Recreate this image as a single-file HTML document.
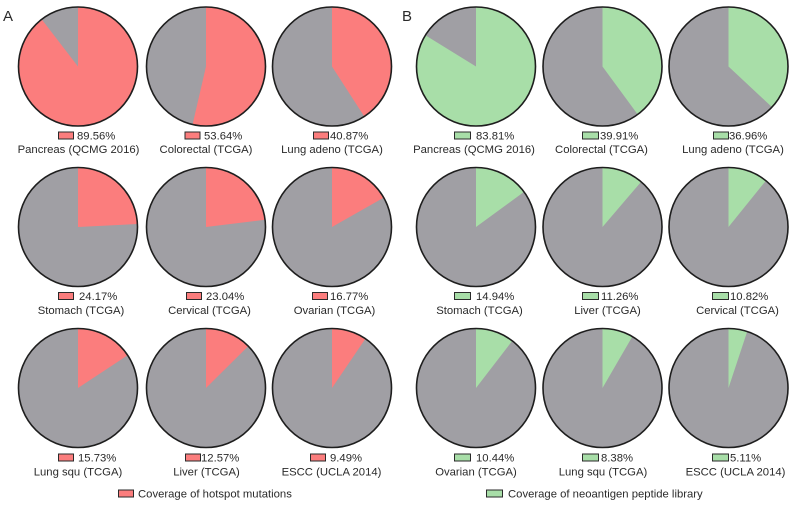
<!DOCTYPE html>
<html><head><meta charset="utf-8"><style>
html,body{margin:0;padding:0;background:#fff;}
svg{display:block;}
text{font-family:"Liberation Sans",Arial,sans-serif;fill:#2a2a2a;}
.p{font-size:11.3px;}
.n{font-size:11.3px;text-anchor:middle;}
</style></head><body>
<svg width="800" height="510" viewBox="0 0 800 510" xmlns="http://www.w3.org/2000/svg">
<defs>
<g id="dummy"></g>
</defs>
<text x="3" y="21" style="font-size:15px">A</text>
<text x="402" y="21" style="font-size:15px">B</text>

<!-- Panel A -->
<g fill="none">
<!-- row 1 -->
<circle cx="78" cy="66.5" r="59.5" fill="#A09FA4"/>
<circle cx="78" cy="66.5" r="29.75" stroke="#FB7D7D" stroke-width="59.5" pathLength="100" stroke-dasharray="89.56 200" transform="rotate(-90 78 66.5)"/>
<circle cx="78" cy="66.5" r="59.5" stroke="#1e1e1e" stroke-width="1.6"/>
<circle cx="206" cy="66.5" r="59.5" fill="#A09FA4"/>
<circle cx="206" cy="66.5" r="29.75" stroke="#FB7D7D" stroke-width="59.5" pathLength="100" stroke-dasharray="53.64 200" transform="rotate(-90 206 66.5)"/>
<circle cx="206" cy="66.5" r="59.5" stroke="#1e1e1e" stroke-width="1.6"/>
<circle cx="332" cy="66.5" r="59.5" fill="#A09FA4"/>
<circle cx="332" cy="66.5" r="29.75" stroke="#FB7D7D" stroke-width="59.5" pathLength="100" stroke-dasharray="40.87 200" transform="rotate(-90 332 66.5)"/>
<circle cx="332" cy="66.5" r="59.5" stroke="#1e1e1e" stroke-width="1.6"/>
<!-- row 2 -->
<circle cx="78" cy="227" r="59.5" fill="#A09FA4"/>
<circle cx="78" cy="227" r="29.75" stroke="#FB7D7D" stroke-width="59.5" pathLength="100" stroke-dasharray="24.17 200" transform="rotate(-90 78 227)"/>
<circle cx="78" cy="227" r="59.5" stroke="#1e1e1e" stroke-width="1.6"/>
<circle cx="206" cy="227" r="59.5" fill="#A09FA4"/>
<circle cx="206" cy="227" r="29.75" stroke="#FB7D7D" stroke-width="59.5" pathLength="100" stroke-dasharray="23.04 200" transform="rotate(-90 206 227)"/>
<circle cx="206" cy="227" r="59.5" stroke="#1e1e1e" stroke-width="1.6"/>
<circle cx="332" cy="227" r="59.5" fill="#A09FA4"/>
<circle cx="332" cy="227" r="29.75" stroke="#FB7D7D" stroke-width="59.5" pathLength="100" stroke-dasharray="16.77 200" transform="rotate(-90 332 227)"/>
<circle cx="332" cy="227" r="59.5" stroke="#1e1e1e" stroke-width="1.6"/>
<!-- row 3 -->
<circle cx="78" cy="388" r="59.5" fill="#A09FA4"/>
<circle cx="78" cy="388" r="29.75" stroke="#FB7D7D" stroke-width="59.5" pathLength="100" stroke-dasharray="15.73 200" transform="rotate(-90 78 388)"/>
<circle cx="78" cy="388" r="59.5" stroke="#1e1e1e" stroke-width="1.6"/>
<circle cx="206" cy="388" r="59.5" fill="#A09FA4"/>
<circle cx="206" cy="388" r="29.75" stroke="#FB7D7D" stroke-width="59.5" pathLength="100" stroke-dasharray="12.57 200" transform="rotate(-90 206 388)"/>
<circle cx="206" cy="388" r="59.5" stroke="#1e1e1e" stroke-width="1.6"/>
<circle cx="332" cy="388" r="59.5" fill="#A09FA4"/>
<circle cx="332" cy="388" r="29.75" stroke="#FB7D7D" stroke-width="59.5" pathLength="100" stroke-dasharray="9.49 200" transform="rotate(-90 332 388)"/>
<circle cx="332" cy="388" r="59.5" stroke="#1e1e1e" stroke-width="1.6"/>
</g>

<!-- Panel B -->
<g fill="none">
<circle cx="476" cy="66.5" r="59.5" fill="#A09FA4"/>
<circle cx="476" cy="66.5" r="29.75" stroke="#A8DEA8" stroke-width="59.5" pathLength="100" stroke-dasharray="83.81 200" transform="rotate(-90 476 66.5)"/>
<circle cx="476" cy="66.5" r="59.5" stroke="#1e1e1e" stroke-width="1.6"/>
<circle cx="602.5" cy="66.5" r="59.5" fill="#A09FA4"/>
<circle cx="602.5" cy="66.5" r="29.75" stroke="#A8DEA8" stroke-width="59.5" pathLength="100" stroke-dasharray="39.91 200" transform="rotate(-90 602.5 66.5)"/>
<circle cx="602.5" cy="66.5" r="59.5" stroke="#1e1e1e" stroke-width="1.6"/>
<circle cx="728.5" cy="66.5" r="59.5" fill="#A09FA4"/>
<circle cx="728.5" cy="66.5" r="29.75" stroke="#A8DEA8" stroke-width="59.5" pathLength="100" stroke-dasharray="36.96 200" transform="rotate(-90 728.5 66.5)"/>
<circle cx="728.5" cy="66.5" r="59.5" stroke="#1e1e1e" stroke-width="1.6"/>

<circle cx="476" cy="227" r="59.5" fill="#A09FA4"/>
<circle cx="476" cy="227" r="29.75" stroke="#A8DEA8" stroke-width="59.5" pathLength="100" stroke-dasharray="14.94 200" transform="rotate(-90 476 227)"/>
<circle cx="476" cy="227" r="59.5" stroke="#1e1e1e" stroke-width="1.6"/>
<circle cx="602.5" cy="227" r="59.5" fill="#A09FA4"/>
<circle cx="602.5" cy="227" r="29.75" stroke="#A8DEA8" stroke-width="59.5" pathLength="100" stroke-dasharray="11.26 200" transform="rotate(-90 602.5 227)"/>
<circle cx="602.5" cy="227" r="59.5" stroke="#1e1e1e" stroke-width="1.6"/>
<circle cx="728.5" cy="227" r="59.5" fill="#A09FA4"/>
<circle cx="728.5" cy="227" r="29.75" stroke="#A8DEA8" stroke-width="59.5" pathLength="100" stroke-dasharray="10.82 200" transform="rotate(-90 728.5 227)"/>
<circle cx="728.5" cy="227" r="59.5" stroke="#1e1e1e" stroke-width="1.6"/>

<circle cx="476" cy="388" r="59.5" fill="#A09FA4"/>
<circle cx="476" cy="388" r="29.75" stroke="#A8DEA8" stroke-width="59.5" pathLength="100" stroke-dasharray="10.44 200" transform="rotate(-90 476 388)"/>
<circle cx="476" cy="388" r="59.5" stroke="#1e1e1e" stroke-width="1.6"/>
<circle cx="602.5" cy="388" r="59.5" fill="#A09FA4"/>
<circle cx="602.5" cy="388" r="29.75" stroke="#A8DEA8" stroke-width="59.5" pathLength="100" stroke-dasharray="8.38 200" transform="rotate(-90 602.5 388)"/>
<circle cx="602.5" cy="388" r="59.5" stroke="#1e1e1e" stroke-width="1.6"/>
<circle cx="728.5" cy="388" r="59.5" fill="#A09FA4"/>
<circle cx="728.5" cy="388" r="29.75" stroke="#A8DEA8" stroke-width="59.5" pathLength="100" stroke-dasharray="5.11 200" transform="rotate(-90 728.5 388)"/>
<circle cx="728.5" cy="388" r="59.5" stroke="#1e1e1e" stroke-width="1.6"/>
</g>

<!-- swatches A -->
<g fill="#FB7D7D" stroke="#2a2a2a" stroke-width="1">
<rect x="58.5" y="132" width="15" height="7"/>
<rect x="185" y="132" width="15" height="7"/>
<rect x="313.5" y="132" width="15" height="7"/>
<rect x="58.5" y="292.5" width="15" height="7"/>
<rect x="186.5" y="292.5" width="15" height="7"/>
<rect x="312.5" y="292.5" width="15" height="7"/>
<rect x="58.5" y="454" width="15" height="7"/>
<rect x="185.5" y="454" width="15" height="7"/>
<rect x="310.5" y="454" width="15" height="7"/>
<rect x="118.5" y="490" width="15" height="7"/>
</g>
<!-- swatches B -->
<g fill="#A8DEA8" stroke="#2a2a2a" stroke-width="1">
<rect x="454.5" y="132" width="16" height="7"/>
<rect x="582.5" y="132" width="16" height="7"/>
<rect x="713.5" y="132" width="15" height="7"/>
<rect x="454.5" y="292.5" width="16" height="7"/>
<rect x="582.5" y="292.5" width="16" height="7"/>
<rect x="712.5" y="292.5" width="16" height="7"/>
<rect x="454.5" y="454" width="16" height="7"/>
<rect x="582.5" y="454" width="16" height="7"/>
<rect x="712.5" y="454" width="16" height="7"/>
<rect x="486.5" y="490" width="16" height="7"/>
</g>

<!-- percentage labels A -->
<text class="p" x="77" y="139.5">89.56%</text>
<text class="p" x="204" y="139.5">53.64%</text>
<text class="p" x="330" y="139.5">40.87%</text>
<text class="p" x="79" y="300">24.17%</text>
<text class="p" x="206" y="300">23.04%</text>
<text class="p" x="330" y="300">16.77%</text>
<text class="p" x="78" y="461.5">15.73%</text>
<text class="p" x="201" y="461.5">12.57%</text>
<text class="p" x="330" y="461.5">9.49%</text>
<!-- names A -->
<text class="n" x="78.5" y="153">Pancreas (QCMG 2016)</text>
<text class="n" x="206" y="153">Colorectal (TCGA)</text>
<text class="n" x="332" y="153">Lung adeno (TCGA)</text>
<text class="n" x="81" y="314">Stomach (TCGA)</text>
<text class="n" x="209.5" y="314">Cervical (TCGA)</text>
<text class="n" x="334.5" y="314">Ovarian (TCGA)</text>
<text class="n" x="78" y="475.5">Lung squ (TCGA)</text>
<text class="n" x="206.5" y="475.5">Liver (TCGA)</text>
<text class="n" x="331.5" y="475.5">ESCC (UCLA 2014)</text>
<text class="p" x="138" y="497.5">Coverage of hotspot mutations</text>

<!-- percentage labels B -->
<text class="p" x="476" y="139.5">83.81%</text>
<text class="p" x="600" y="139.5">39.91%</text>
<text class="p" x="729" y="139.5">36.96%</text>
<text class="p" x="476" y="300">14.94%</text>
<text class="p" x="601" y="300">11.26%</text>
<text class="p" x="730" y="300">10.82%</text>
<text class="p" x="476" y="461.5">10.44%</text>
<text class="p" x="601" y="461.5">8.38%</text>
<text class="p" x="730" y="461.5">5.11%</text>
<!-- names B -->
<text class="n" x="474" y="153">Pancreas (QCMG 2016)</text>
<text class="n" x="601.5" y="153">Colorectal (TCGA)</text>
<text class="n" x="733" y="153">Lung adeno (TCGA)</text>
<text class="n" x="479.5" y="314">Stomach (TCGA)</text>
<text class="n" x="607.5" y="314">Liver (TCGA)</text>
<text class="n" x="737.5" y="314">Cervical (TCGA)</text>
<text class="n" x="476" y="475.5">Ovarian (TCGA)</text>
<text class="n" x="603" y="475.5">Lung squ (TCGA)</text>
<text class="n" x="735.5" y="475.5">ESCC (UCLA 2014)</text>
<text class="p" x="508" y="497.5">Coverage of neoantigen peptide library</text>
</svg>
</body></html>
